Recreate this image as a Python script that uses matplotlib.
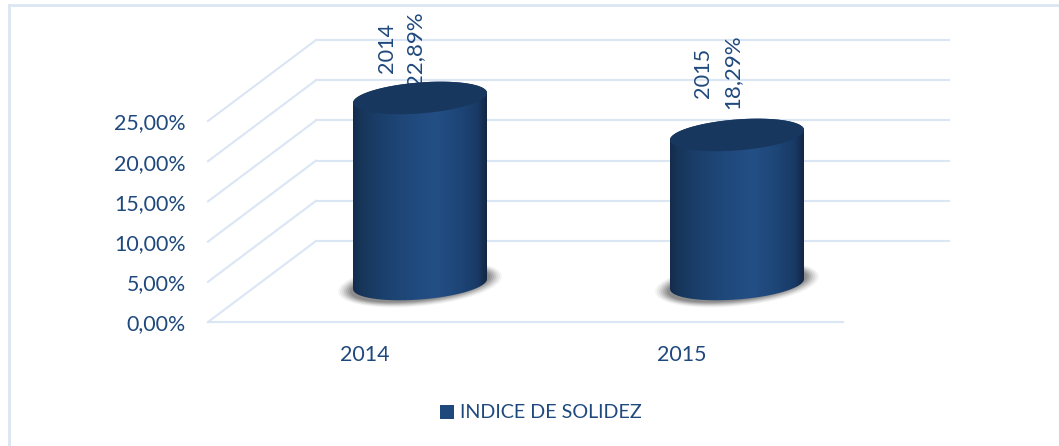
import numpy as np
import matplotlib
matplotlib.use("Agg")
import matplotlib.pyplot as plt
from matplotlib.colors import LinearSegmentedColormap
from matplotlib.patches import Polygon, Rectangle

plt.rcParams['font.family'] = ['Lato', 'DejaVu Sans']

years = ['2014', '2015']
indice = [22.89, 18.29]
value_labels = ['22,89%', '18,29%']
y_ticks = [0, 5, 10, 15, 20, 25]
y_tick_labels = ['0,00%', '5,00%', '10,00%', '15,00%', '20,00%', '25,00%']
series_name = 'INDICE DE SOLIDEZ'

# gap in pixels between the top of the cylinder and its two rotated labels
year_gap = [25, 36.5]
value_gap = [12, 25.5]

TEXT = '#1f497d'
GRID = '#dbe6f4'
PX_PER_PCT = 8.04
ZERO_PX = 322

# x axis is in pixels, y axis is in percent
W, H = 1059, 446
fig = plt.figure(figsize=(W / 100, H / 100), dpi=100)
ax = fig.add_axes([0, 0, 1, 1])
ax.set_xlim(0, W)
ax.set_ylim((ZERO_PX - H) / PX_PER_PCT, ZERO_PX / PX_PER_PCT)
ax.axis('off')

dy = 1 / PX_PER_PCT
depth_x, depth_y = 108, 81 * dy

# frame
ax.plot([8.5, 8.5], [(ZERO_PX - H) / PX_PER_PCT, (ZERO_PX - 5) * dy], color=GRID, lw=2, zorder=1)
ax.plot([8.5, W], [(ZERO_PX - 5) * dy] * 2, color=GRID, lw=2, zorder=1)

# grid: wall lines then back lines
for t, lab in zip(y_ticks, y_tick_labels):
    ax.plot([208, 208 + depth_x], [t, t + depth_y], color=GRID, lw=1.5, zorder=1)
    ax.plot([208 + depth_x, 949], [t + depth_y] * 2, color=GRID, lw=1.5, zorder=1)
    ax.text(186, t - 2.5 * dy, lab, ha='right', va='center', fontsize=15.4, color=TEXT)
ax.plot([208, 843], [0, 0], color=GRID, lw=1.5, zorder=1)

cmap = LinearSegmentedColormap.from_list('cyl', [
    (0.0, '#132c4e'), (0.06, '#173558'), (0.2, '#1b3f6b'), (0.45, '#204a7e'), (0.62, '#244f85'),
    (0.8, '#1d4577'), (0.93, '#193a66'), (1.0, '#122744')])
grad = np.linspace(0, 1, 256).reshape(1, -1)


def ellipse_xy(cx, cy, a=67, b=15.5, s=5.0, grow=0.0):
    t = np.linspace(0, 2 * np.pi, 121)
    return cx + (a + grow) * np.cos(t), cy + (b + grow * 0.45) * np.sin(t) * dy + s * np.cos(t) * dy


base = 38 * dy
for i, year in enumerate(years):
    px = 365 + 317 * i
    ax.text(px, -33 * dy, year, ha='center', va='center', fontsize=15.4, color=TEXT)

    cx = px + 55
    top = base + indice[i] + 2 * dy
    left, right = cx - 67, cx + 67

    # shadow on the floor
    for grow, alpha in zip([15, 13, 11, 9, 7, 5, 3], [.05, .07, .09, .12, .14, .16, .18]):
        sx, sy = ellipse_xy(cx, base, s=7.5, grow=grow)
        ax.add_patch(Polygon(np.column_stack([sx, sy]), fc='#404040', ec='none', alpha=alpha, zorder=2))

    # rotated labels sit behind the cylinder
    ax.text(cx - 33.5, top + year_gap[i] * dy, year, rotation=90, ha='center', va='bottom',
            fontsize=15.6, color=TEXT, zorder=2)
    ax.text(cx - 5, top + value_gap[i] * dy, value_labels[i], rotation=90, ha='center', va='bottom',
            fontsize=16, color=TEXT, zorder=2)

    # body: lower half of the bottom ellipse, then upper half of the top one
    ex, ey = ellipse_xy(cx, top)
    bx, by = ellipse_xy(cx, base)
    outline = np.vstack([np.column_stack([bx[60:], by[60:]]),
                         np.column_stack([ex[:61], ey[:61]])])
    im = ax.imshow(grad, cmap=cmap, aspect='auto', extent=[left, right, base - 30 * dy, top + 30 * dy],
                   zorder=3, interpolation='bilinear')
    body = Polygon(outline, closed=True, transform=ax.transData, fc='none', ec='none')
    ax.add_patch(body)
    im.set_clip_path(body)
    ax.add_patch(Polygon(np.column_stack([ex, ey]), fc='#17375e', ec='none', zorder=4))

ax.set_xlim(0, W)
ax.set_ylim((ZERO_PX - H) / PX_PER_PCT, ZERO_PX / PX_PER_PCT)

# legend
ax.add_patch(Rectangle((440, (ZERO_PX - 419) * dy), 14, 14 * dy, fc='#1f497d', ec='none'))
ax.text(460, (ZERO_PX - 412.5) * dy, series_name, ha='left', va='center', fontsize=14.25, color=TEXT)

fig.savefig('out.png', dpi=100, facecolor='white')
